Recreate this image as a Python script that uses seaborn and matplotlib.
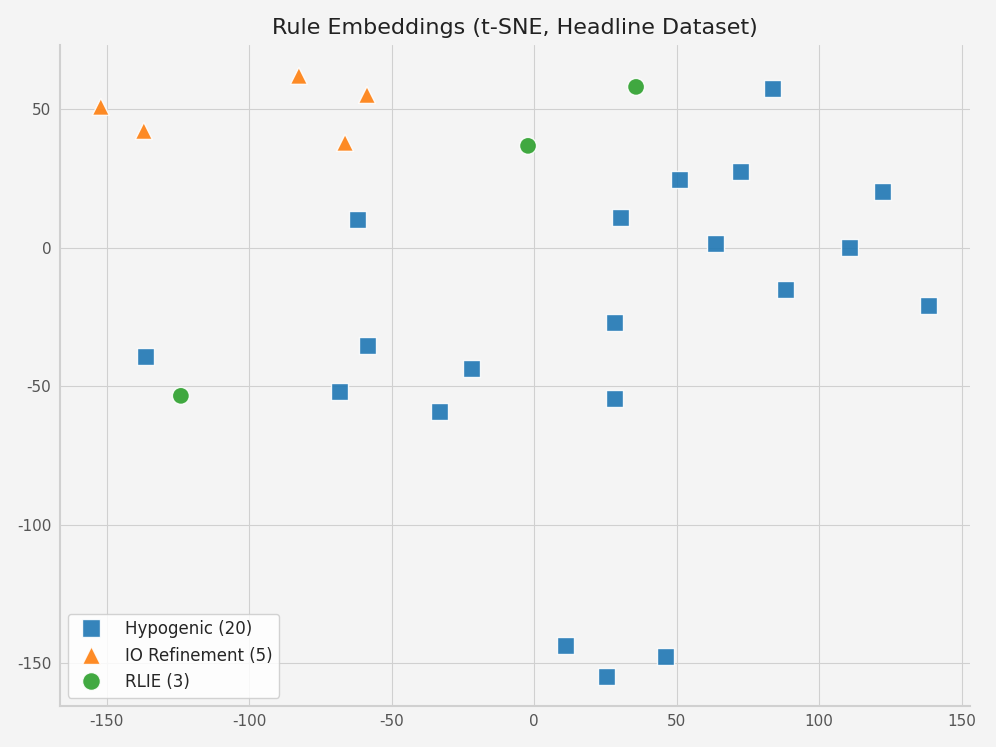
import pandas as pd
import numpy as np
import matplotlib.pyplot as plt
import seaborn as sns

# t-SNE 坐标
hypo_x = [83.5, 50.9, 72.3, 122.1, 30.5, -61.8, 63.5, 110.6, 88.1, 138.3,
          28.1, -136.2, -58.3, -22.1, -68.4, -33.3, 28.1, 11.2, 25.3, 46.0]
hypo_y = [57.4, 24.5, 27.4, 20.2, 11.1, 10.1, 1.4, 0.0, -15.2, -21.0,
          -27.1, -39.4, -35.4, -43.7, -52.1, -59.3, -54.6, -143.5, -154.7, -147.8]
io_x = [-152.0, -136.9, -82.5, -58.6, -66.3]
io_y = [50.9, 42.2, 62.1, 55.2, 37.9]
rlie_x = [35.8, -2.1, -123.9]
rlie_y = [58.1, 36.8, -53.5]

labels = ['Hypogenic (20)', 'IO Refinement (5)', 'RLIE (3)']
colors = ['#1f77b4', '#ff7f0e', '#2ca02c']
markers = ['s', '^', 'o']

df = pd.concat([
    pd.DataFrame({'x': hypo_x, 'y': hypo_y, 'method': labels[0]}),
    pd.DataFrame({'x': io_x, 'y': io_y, 'method': labels[1]}),
    pd.DataFrame({'x': rlie_x, 'y': rlie_y, 'method': labels[2]}),
], ignore_index=True)

sns.set_style('whitegrid', {'axes.facecolor': '#f4f4f4', 'figure.facecolor': '#f4f4f4',
                            'grid.color': '#d0d0d0', 'axes.edgecolor': '#d0d0d0'})
plt.rcParams['font.family'] = ['DejaVu Sans']
plt.rcParams['axes.unicode_minus'] = False

fig, ax = plt.subplots(figsize=(9.96, 7.47), dpi=100)
fig.patch.set_facecolor('#f4f4f4')
sns.scatterplot(data=df, x='x', y='y', hue='method', style='method',
                hue_order=labels, style_order=labels,
                palette=dict(zip(labels, colors)), markers=dict(zip(labels, markers)),
                s=150, alpha=0.9, edgecolor='white', linewidth=1, ax=ax)
sns.despine(ax=ax)
ax.set_xlim(-166.4, 153.0)
ax.set_ylim(-165.5, 73.3)
ax.set_xticks([-150, -100, -50, 0, 50, 100, 150])
ax.set_yticks([-150, -100, -50, 0, 50])
ax.tick_params(colors='#555555', labelsize=11, length=0, pad=6)
ax.set_xlabel('')
ax.set_ylabel('')
ax.set_title('Rule Embeddings (t-SNE, Headline Dataset)', fontsize=16, color='#222222', pad=8)
for s in ['left', 'bottom']:
    ax.spines[s].set_linewidth(1.5)
leg = ax.legend(loc='lower left', fontsize=12, markerscale=1.05, frameon=True,
                handletextpad=1.0, labelspacing=0.5)
leg.get_frame().set_facecolor('white')
leg.get_frame().set_alpha(0.85)
fig.subplots_adjust(left=0.06, right=0.974, top=0.94, bottom=0.055)
fig.savefig('out.png', dpi=100, facecolor=fig.get_facecolor())
